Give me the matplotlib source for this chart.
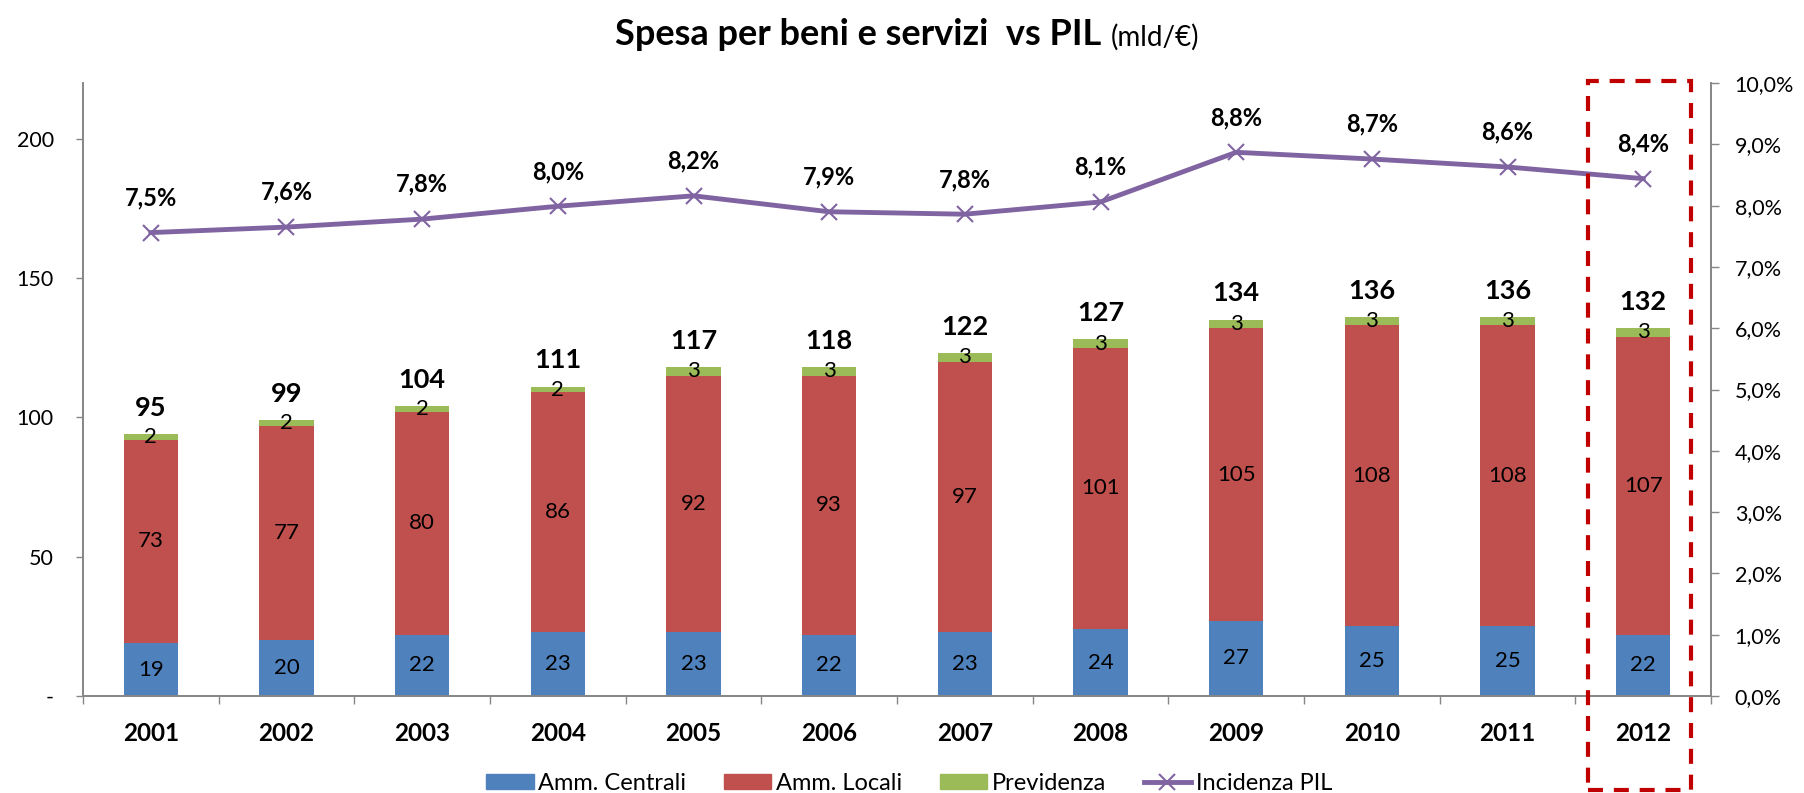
import matplotlib
matplotlib.use('Agg')
import matplotlib.pyplot as plt
import matplotlib.transforms as mtransforms
from matplotlib.patches import Rectangle, Patch
from matplotlib.lines import Line2D
import numpy as np

plt.rcParams['font.family'] = ['Lato', 'DejaVu Sans']

years = ['2001', '2002', '2003', '2004', '2005', '2006',
         '2007', '2008', '2009', '2010', '2011', '2012']
centrali = [19, 20, 22, 23, 23, 22, 23, 24, 27, 25, 25, 22]
locali = [73, 77, 80, 86, 92, 93, 97, 101, 105, 108, 108, 107]
previdenza = [2, 2, 2, 2, 3, 3, 3, 3, 3, 3, 3, 3]
totali = [95, 99, 104, 111, 117, 118, 122, 127, 134, 136, 136, 132]
pil = [7.56, 7.65, 7.78, 7.99, 8.16, 7.90, 7.86, 8.06, 8.87, 8.76, 8.63, 8.44]
pil_labels = ['7,5%', '7,6%', '7,8%', '8,0%', '8,2%', '7,9%',
              '7,8%', '8,1%', '8,8%', '8,7%', '8,6%', '8,4%']

BLUE = '#4F81BD'
RED = '#C0504D'
GREEN = '#9BBB59'
PURPLE = '#8064A2'
GREY = '#868686'

fig = plt.figure(figsize=(18.04, 7.93), dpi=100)
ax = fig.add_axes([0.046, 0.1223, 0.9025, 0.773])

x = np.arange(len(years))
c = np.array(centrali)
l = np.array(locali)
p = np.array(previdenza)

ax.bar(x, c, 0.4, color=BLUE, zorder=2)
ax.bar(x, l, 0.4, bottom=c, color=RED, zorder=2)
ax.bar(x, p, 0.4, bottom=c + l, color=GREEN, zorder=2)

for i in range(len(x)):
    ax.text(x[i], c[i] / 2, str(c[i]), ha='center', va='center', fontsize=16, zorder=3)
    ax.text(x[i], c[i] + l[i] / 2, str(l[i]), ha='center', va='center', fontsize=16, zorder=3)
    ax.text(x[i], c[i] + l[i] + p[i] / 2, str(p[i]), ha='center', va='center', fontsize=16, zorder=3)
    ax.annotate(str(totali[i]), (x[i], c[i] + l[i] + p[i]), xytext=(0, 19),
                textcoords='offset points', ha='center', va='center',
                fontsize=19.5, fontweight='bold')

ax.set_xlim(-0.5, len(x) - 0.5)
ax.set_ylim(0, 220)
ax.set_yticks([0, 50, 100, 150, 200])
ax.set_yticklabels(['-', '50', '100', '150', '200'])
ax.set_xticks(x)
ax.set_xticklabels(years, fontweight='bold', fontsize=17.5)
ax.set_xticks(np.arange(-0.5, len(x)), minor=True)
ax.tick_params(axis='x', which='major', length=0, pad=19)
ax.tick_params(axis='x', which='minor', length=6, color=GREY, width=1)
ax.tick_params(axis='y', length=5, color=GREY, width=1, labelsize=15.5, pad=16)

ax.spines['top'].set_visible(False)
for s in ['left', 'bottom', 'right']:
    ax.spines[s].set_color(GREY)
    ax.spines[s].set_linewidth(1.2)

ax2 = ax.twinx()
ax2.plot(x, pil, color=PURPLE, lw=3.5, marker='x', ms=12, mew=1.5, zorder=4)
for i in range(len(x)):
    ax2.annotate(pil_labels[i], (x[i], pil[i]), xytext=(0, 25),
                 textcoords='offset points', ha='center', va='center',
                 fontsize=17, fontweight='bold')
ax2.set_ylim(0, 10)
ax2.set_yticks(np.arange(0, 11))
ax2.set_yticklabels([f'{v},0%' for v in range(11)])
ax2.tick_params(axis='y', length=6, color=GREY, width=1, labelsize=15.5, pad=11)
ax2.spines['top'].set_visible(False)
for s in ['left', 'bottom', 'right']:
    ax2.spines[s].set_color(GREY)
    ax2.spines[s].set_linewidth(1.2)

# highlight last year
trans = mtransforms.blended_transform_factory(ax.transData, fig.transFigure)
k = len(x) - 1
box = Rectangle((x[k] - 0.41, 0.004), 0.765, 0.894, transform=trans, fill=False,
                edgecolor='#C00000', lw=3, linestyle=(0, (3.6, 2.6)), clip_on=False)
fig.add_artist(box)

# title: bold part + regular unit
t1 = fig.text(0.341, 0.9565, 'Spesa per beni e servizi  vs PIL', ha='left', va='center',
              fontsize=26, fontweight='bold')
fig.canvas.draw()
bb = t1.get_window_extent()
fig.text(bb.x1 / fig.bbox.width + 0.005, 0.9535, '(mld/€)', ha='left', va='center', fontsize=20)

handles = [Patch(color=BLUE), Patch(color=RED), Patch(color=GREEN),
           Line2D([], [], color=PURPLE, lw=3.5, marker='x', ms=12, mew=1.5)]
labels = ['Amm. Centrali', 'Amm. Locali', 'Previdenza', 'Incidenza PIL']
fig.legend(handles, labels, loc='center', bbox_to_anchor=(0.504, 0.012), ncol=4,
           frameon=False, fontsize=17, handlelength=2.0, handleheight=0.6,
           columnspacing=1.6, handletextpad=0.2)

fig.savefig('out.png', dpi=100)
